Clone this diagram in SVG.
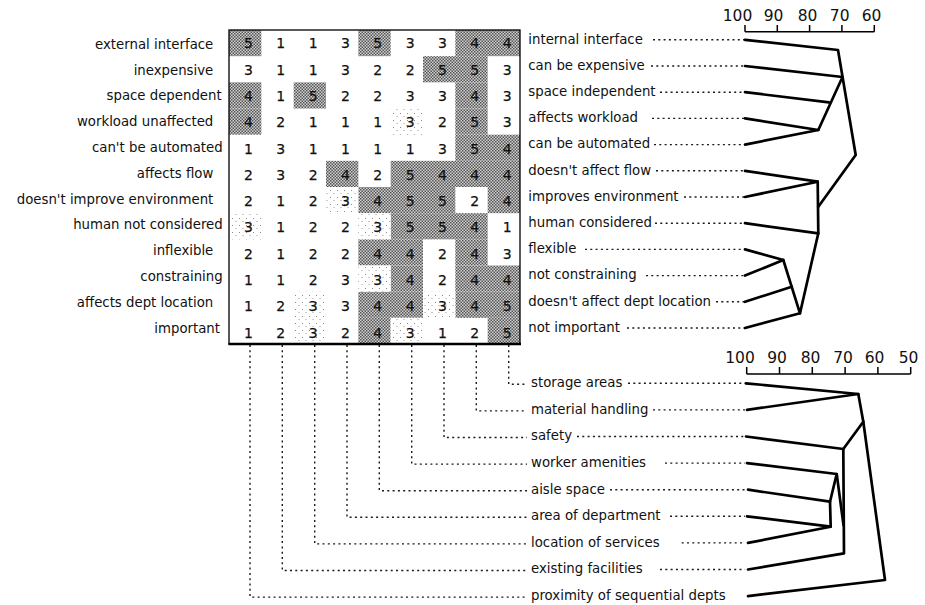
<svg xmlns="http://www.w3.org/2000/svg" width="925" height="605" viewBox="0 0 925 605">
<defs>
<pattern id="dark" width="3" height="3" patternUnits="userSpaceOnUse">
<rect width="3" height="3" fill="#d0d0d0"/>
<rect width="1.5" height="1.5" fill="#555"/>
<rect x="1.5" y="1.5" width="1.5" height="1.5" fill="#555"/>
</pattern>
<pattern id="light" width="7" height="7" patternUnits="userSpaceOnUse">
<rect width="7" height="7" fill="#ffffff"/>
<rect x="1" y="1" width="1" height="1" fill="#8a8a8a"/>
<rect x="4.5" y="4" width="1" height="1" fill="#9a9a9a"/>
</pattern>
</defs>
<style>
text{font-family:"DejaVu Sans",Verdana,sans-serif;fill:#111}
.lbl{font-size:13.3px}
.l{text-anchor:end}
.num{font-size:14px;stroke:#111;stroke-width:0.25}
.sc{font-size:15.5px;text-anchor:middle}
.dk{fill:url(#dark)}
.lt{fill:url(#light)}
.dot{stroke:#1a1a1a;stroke-width:1.4;stroke-dasharray:2 3.3;fill:none}
.den{stroke:#000;stroke-width:2.7;fill:none;stroke-linejoin:round;stroke-linecap:round}
.ax{stroke:#000;stroke-width:1.5;fill:none}
</style>
<rect width="925" height="605" fill="#fff"/>

<g id="grid">
<g id="shading">
<rect class="dk" x="229" y="30" width="32.33" height="26.17"/>
<rect class="dk" x="358.33" y="30" width="32.33" height="26.17"/>
<rect class="dk" x="455.33" y="30" width="64.67" height="26.17"/>
<rect class="dk" x="423" y="56.17" width="64.67" height="26.17"/>
<rect class="dk" x="229" y="82.33" width="32.33" height="26.17"/>
<rect class="dk" x="293.67" y="82.33" width="32.33" height="26.17"/>
<rect class="dk" x="455.33" y="82.33" width="32.33" height="26.17"/>
<rect class="dk" x="229" y="108.5" width="32.33" height="26.17"/>
<rect class="dk" x="455.33" y="108.5" width="32.33" height="26.17"/>
<rect class="dk" x="455.33" y="134.67" width="64.67" height="26.17"/>
<rect class="dk" x="326" y="160.83" width="32.33" height="26.17"/>
<rect class="dk" x="390.67" y="160.83" width="129.33" height="26.17"/>
<rect class="dk" x="358.33" y="187" width="97" height="26.17"/>
<rect class="dk" x="487.67" y="187" width="32.33" height="26.17"/>
<rect class="dk" x="390.67" y="213.17" width="97" height="26.17"/>
<rect class="dk" x="358.33" y="239.33" width="64.67" height="26.17"/>
<rect class="dk" x="455.33" y="239.33" width="32.33" height="26.17"/>
<rect class="dk" x="390.67" y="265.5" width="32.33" height="26.17"/>
<rect class="dk" x="455.33" y="265.5" width="64.67" height="26.17"/>
<rect class="dk" x="358.33" y="291.67" width="64.67" height="26.17"/>
<rect class="dk" x="455.33" y="291.67" width="64.67" height="26.17"/>
<rect class="dk" x="358.33" y="317.83" width="32.33" height="26.17"/>
<rect class="dk" x="487.67" y="317.83" width="32.33" height="26.17"/>
<rect class="lt" x="390.67" y="108.5" width="32.33" height="26.17"/>
<rect class="lt" x="326" y="187" width="32.33" height="26.17"/>
<rect class="lt" x="229" y="213.17" width="32.33" height="26.17"/>
<rect class="lt" x="358.33" y="213.17" width="32.33" height="26.17"/>
<rect class="lt" x="358.33" y="265.5" width="32.33" height="26.17"/>
<rect class="lt" x="293.67" y="291.67" width="32.33" height="26.17"/>
<rect class="lt" x="293.67" y="317.83" width="32.33" height="26.17"/>
<rect class="lt" x="423" y="291.67" width="32.33" height="26.17"/>
<rect class="lt" x="390.67" y="317.83" width="32.33" height="26.17"/>
</g>
<rect x="229" y="30" width="291" height="314" fill="none" stroke="#000" stroke-width="1.3"/>
<line x1="228.5" y1="344" x2="521" y2="344" stroke="#000" stroke-width="2.6"/>
<g id="values" class="num">
<text x="244.05 276.35 308.75 341.05 373.35 405.75 438.05 470.35 502.75" y="48.3">511353344</text>
<text x="244.05 276.35 308.75 341.05 373.35 405.75 438.05 470.35 502.75" y="74.6">311322553</text>
<text x="244.05 276.35 308.75 341.05 373.35 405.75 438.05 470.35 502.75" y="100.9">415223343</text>
<text x="244.05 276.35 308.75 341.05 373.35 405.75 438.05 470.35 502.75" y="127.2">421113253</text>
<text x="244.05 276.35 308.75 341.05 373.35 405.75 438.05 470.35 502.75" y="153.5">131111354</text>
<text x="244.05 276.35 308.75 341.05 373.35 405.75 438.05 470.35 502.75" y="179.8">232425444</text>
<text x="244.05 276.35 308.75 341.05 373.35 405.75 438.05 470.35 502.75" y="206.1">212345524</text>
<text x="244.05 276.35 308.75 341.05 373.35 405.75 438.05 470.35 502.75" y="232.4">312235541</text>
<text x="244.05 276.35 308.75 341.05 373.35 405.75 438.05 470.35 502.75" y="258.7">212244243</text>
<text x="244.05 276.35 308.75 341.05 373.35 405.75 438.05 470.35 502.75" y="285.0">112334244</text>
<text x="244.05 276.35 308.75 341.05 373.35 405.75 438.05 470.35 502.75" y="311.3">123344345</text>
<text x="244.05 276.35 308.75 341.05 373.35 405.75 438.05 470.35 502.75" y="337.6">123243125</text>
</g>
</g>

<g id="left-labels" class="lbl l">
<g id="n-external-interface"><text x="213.3" y="48.7">external interface</text></g>
<g id="n-inexpensive"><text x="213.3" y="74.5">inexpensive</text></g>
<g id="n-space-dependent"><text x="221.7" y="100.3">space dependent</text></g>
<g id="n-workload-unaffected"><text x="213.3" y="126.1">workload unaffected</text></g>
<g id="n-cant-be-automated"><text x="222.7" y="151.9">can't be automated</text></g>
<g id="n-affects-flow"><text x="213.3" y="177.7">affects flow</text></g>
<g id="n-doesnt-improve-environment"><text x="213.3" y="203.5">doesn't improve environment</text></g>
<g id="n-human-not-considered"><text x="222.7" y="229.3">human not considered</text></g>
<g id="n-inflexible"><text x="213.3" y="255.1">inflexible</text></g>
<g id="n-constraining"><text x="222.7" y="280.9">constraining</text></g>
<g id="n-affects-dept-location"><text x="213.3" y="306.7">affects dept location</text></g>
<g id="n-important"><text x="220" y="332.5">important</text></g>
</g>

<g id="right-labels" class="lbl">
<g id="n-internal-interface"><text x="528.3" y="43.6">internal interface</text></g>
<g id="n-can-be-expensive"><text x="528.3" y="69.8">can be expensive</text></g>
<g id="n-space-independent"><text x="528.3" y="96">space independent</text></g>
<g id="n-affects-workload"><text x="528.3" y="122.2">affects workload</text></g>
<g id="n-can-be-automated"><text x="528.3" y="148.4">can be automated</text></g>
<g id="n-doesnt-affect-flow"><text x="528.3" y="174.6">doesn't affect flow</text></g>
<g id="n-improves-environment"><text x="528.3" y="200.8">improves environment</text></g>
<g id="n-human-considered"><text x="528.3" y="227">human considered</text></g>
<g id="n-flexible"><text x="528.3" y="253.2">flexible</text></g>
<g id="n-not-constraining"><text x="528.3" y="279.4">not constraining</text></g>
<g id="n-doesnt-affect-dept-location"><text x="528.3" y="305.6">doesn't affect dept location</text></g>
<g id="n-not-important"><text x="528.3" y="331.8">not important</text></g>
</g>

<g id="bottom-labels" class="lbl">
<g id="n-storage-areas"><text x="531" y="387.1">storage areas</text></g>
<g id="n-material-handling"><text x="531" y="413.7">material handling</text></g>
<g id="n-safety"><text x="531" y="440.3">safety</text></g>
<g id="n-worker-amenities"><text x="531" y="466.9">worker amenities</text></g>
<g id="n-aisle-space"><text x="531" y="493.5">aisle space</text></g>
<g id="n-area-of-department"><text x="531" y="520.1">area of department</text></g>
<g id="n-location-of-services"><text x="531" y="546.7">location of services</text></g>
<g id="n-existing-facilities"><text x="531" y="573.3">existing facilities</text></g>
<g id="n-proximity"><text x="531" y="599.9">proximity of sequential depts</text></g>
</g>

<g id="scale-top">
<path class="ax" d="M745,31.7 H874.3 M745,31.7 V25 M777.3,31.7 V25 M809.6,31.7 V25 M841.9,31.7 V25 M874.3,31.7 V25"/>
<text class="sc" x="737.5" y="20.5">100</text>
<text class="sc" x="773.5" y="20.5">90</text>
<text class="sc" x="807.5" y="20.5">80</text>
<text class="sc" x="839.7" y="20.5">70</text>
<text class="sc" x="871.6" y="20.5">60</text>
</g>
<g id="scale-bottom">
<path class="ax" d="M746.7,374 H910.7 M746.7,374 V367 M779.5,374 V367 M812.3,374 V367 M845.1,374 V367 M877.9,374 V367 M910.7,374 V367"/>
<text class="sc" x="740" y="363.3">100</text>
<text class="sc" x="777" y="363.3">90</text>
<text class="sc" x="810.5" y="363.3">80</text>
<text class="sc" x="843" y="363.3">70</text>
<text class="sc" x="874.5" y="363.3">60</text>
<text class="sc" x="908.5" y="363.3">50</text>
</g>

<g id="connectors">
<g id="dots-top" class="dot">
<path d="M653,39.8 H744"/>
<path d="M651,66 H744"/>
<path d="M660,92.2 H744"/>
<path d="M652,118.4 H744"/>
<path d="M654,144.6 H744"/>
<path d="M656,170.8 H744"/>
<path d="M684,197 H744"/>
<path d="M655,223.2 H744"/>
<path d="M585,249.4 H744"/>
<path d="M646,275.6 H744"/>
<path d="M716,301.8 H744"/>
<path d="M627,328 H744"/>
</g>
<g id="dots-bottom" class="dot">
<path d="M508.7,345 V384.3 H527"/>
<path d="M476.3,345 V410.9 H527"/>
<path d="M444,345 V437.5 H527"/>
<path d="M411.7,345 V464.1 H527"/>
<path d="M379.3,345 V490.7 H527"/>
<path d="M347,345 V517.3 H527"/>
<path d="M314.7,345 V543.9 H527"/>
<path d="M282.3,345 V570.5 H527"/>
<path d="M250,345 V597.1 H527"/>
<path d="M628,383.3 H745"/>
<path d="M653,409.9 H745"/>
<path d="M577,436.5 H745"/>
<path d="M665,463.1 H745"/>
<path d="M610,489.7 H745"/>
<path d="M670,516.3 H745"/>
<path d="M681.7,542.9 H745"/>
<path d="M660,569.5 H745"/>
</g>
<g id="dendro-top" class="den">
<path d="M745,39.8 L838,50 L855.7,155 L818.3,206.7"/>
<path d="M745,66 L842.5,77 L818.3,130 L745,118.4"/>
<path d="M745,92.2 L829,102.3"/>
<path d="M745,144.6 L818.3,130"/>
<path d="M745,170.8 L817.7,181.7 L745,197"/>
<path d="M817.7,181.7 L818.3,233.3 L800,313.3 L783.3,260 L745,249.4"/>
<path d="M745,223.2 L818.3,233.3"/>
<path d="M745,275.6 L783.3,260"/>
<path d="M745,301.8 L791.7,286.7"/>
<path d="M745,328 L800,313.3"/>
</g>
<g id="dendro-bottom" class="den">
<path d="M746,383.3 L858.3,394 L863.3,421.7 L885,580 L748,596.1"/>
<path d="M747,409.9 L858.3,394"/>
<path d="M863.3,421.7 L843.3,449 L844,553.3 L748,569.5"/>
<path d="M746,436.5 L843.3,449"/>
<path d="M747,463.1 L836.7,474 L830,501.7 L830.7,526.7 L747,516.3"/>
<path d="M748,489.7 L830,501.7"/>
<path d="M748,542.9 L830.7,526.7"/>
<path d="M836.7,474 L843.5,525"/>
</g>
</g>
</svg>
